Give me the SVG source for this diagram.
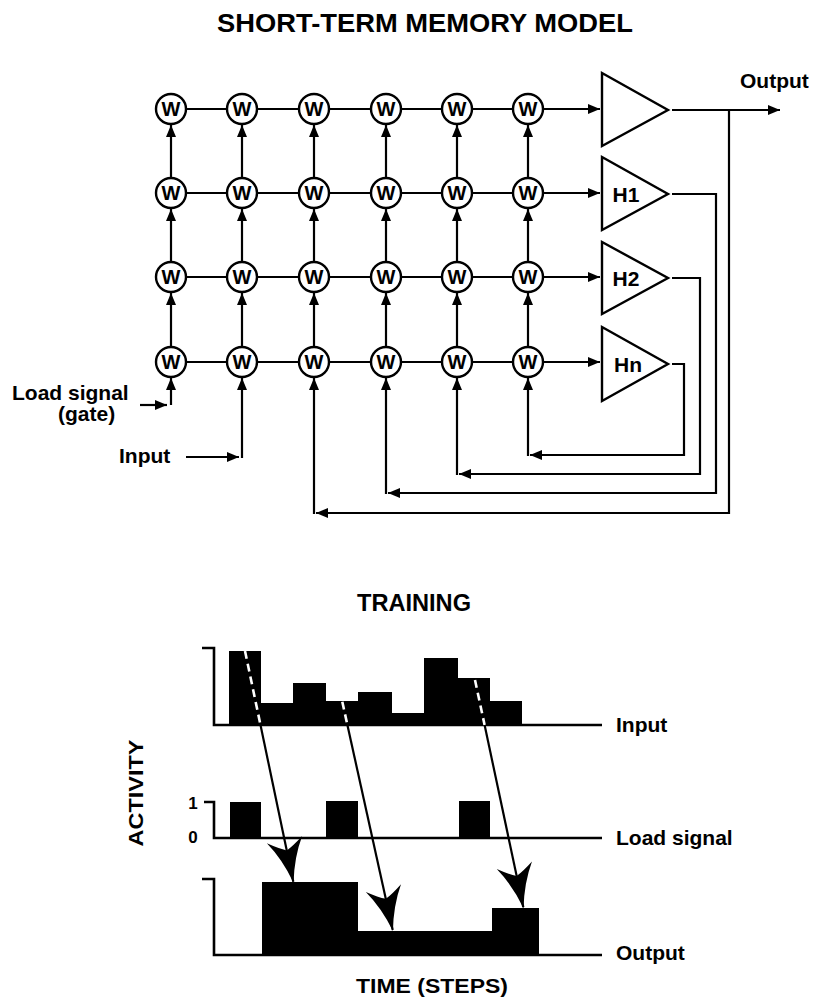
<svg xmlns="http://www.w3.org/2000/svg" width="817" height="1000" viewBox="0 0 817 1000">
<style>
text{font-family:"Liberation Sans",Arial,Helvetica,sans-serif;font-weight:bold;fill:#000}
.ln{fill:none;stroke:#000;stroke-width:2.2}
.ax{fill:none;stroke:#000;stroke-width:2.6}
.node circle{fill:#fff;stroke:#000;stroke-width:2.4}
.node text{font-size:20px;text-anchor:middle}
.amp polygon{fill:#fff;stroke:#000;stroke-width:2.4;stroke-linejoin:miter}
.amp text{font-size:21px;text-anchor:middle}
.lbl{font-size:21px}
.dash{fill:none;stroke:#fff;stroke-width:2.6;stroke-dasharray:8 5}
.bar{fill:#000}
</style>
<defs>
<marker id="ah" markerUnits="userSpaceOnUse" orient="auto" refX="0" refY="0" markerWidth="20" markerHeight="20" overflow="visible">
<path d="M0,0 L-12,-5 L-12,5 Z" fill="#000"/>
</marker>
<marker id="big" markerUnits="userSpaceOnUse" orient="auto" refX="0" refY="0" markerWidth="60" markerHeight="60" overflow="visible">
<path d="M1,0 Q-24,-6 -43,-18 Q-35,-7 -32,0 Q-35,7 -43,18 Q-24,6 1,0 Z" fill="#000"/>
</marker>
</defs>

<text x="425" y="32" font-size="26" text-anchor="middle" textLength="416" lengthAdjust="spacingAndGlyphs">SHORT-TERM MEMORY MODEL</text>

<g id="connectors">
<path class="ln" d="M171,109 H600" marker-end="url(#ah)"/>
<path class="ln" d="M171,193 H600" marker-end="url(#ah)"/>
<path class="ln" d="M171,277 H600" marker-end="url(#ah)"/>
<path class="ln" d="M171,362 H600" marker-end="url(#ah)"/>
<g class="ln">
<path d="M171,347 V293" marker-end="url(#ah)"/><path d="M171,262 V209" marker-end="url(#ah)"/><path d="M171,178 V125" marker-end="url(#ah)"/>
<path d="M242,347 V293" marker-end="url(#ah)"/><path d="M242,262 V209" marker-end="url(#ah)"/><path d="M242,178 V125" marker-end="url(#ah)"/>
<path d="M314,347 V293" marker-end="url(#ah)"/><path d="M314,262 V209" marker-end="url(#ah)"/><path d="M314,178 V125" marker-end="url(#ah)"/>
<path d="M386,347 V293" marker-end="url(#ah)"/><path d="M386,262 V209" marker-end="url(#ah)"/><path d="M386,178 V125" marker-end="url(#ah)"/>
<path d="M457,347 V293" marker-end="url(#ah)"/><path d="M457,262 V209" marker-end="url(#ah)"/><path d="M457,178 V125" marker-end="url(#ah)"/>
<path d="M528,347 V293" marker-end="url(#ah)"/><path d="M528,262 V209" marker-end="url(#ah)"/><path d="M528,178 V125" marker-end="url(#ah)"/>
</g>
<path class="ln" d="M140,405 H167" marker-end="url(#ah)"/>
<path class="ln" d="M171,405 V378" marker-end="url(#ah)"/>
<path class="ln" d="M186,457 H239" marker-end="url(#ah)"/>
<path class="ln" d="M242,458 V378" marker-end="url(#ah)"/>
<path class="ln" d="M672,110 H780" marker-end="url(#ah)"/>
<path class="ln" d="M729,110 V513 H316" marker-end="url(#ah)"/>
<path class="ln" d="M314,514 V378" marker-end="url(#ah)"/>
<path class="ln" d="M672,194 H716 V493 H388" marker-end="url(#ah)"/>
<path class="ln" d="M386,494 V378" marker-end="url(#ah)"/>
<path class="ln" d="M672,278 H700 V474 H459" marker-end="url(#ah)"/>
<path class="ln" d="M457,475 V378" marker-end="url(#ah)"/>
<path class="ln" d="M672,364 H684 V455 H530" marker-end="url(#ah)"/>
<path class="ln" d="M528,456 V378" marker-end="url(#ah)"/>
</g>

<g id="w-nodes" class="node">
<g id="w11"><circle cx="171" cy="109" r="15"/><text x="171" y="116">W</text></g>
<g id="w12"><circle cx="242" cy="109" r="15"/><text x="242" y="116">W</text></g>
<g id="w13"><circle cx="314" cy="109" r="15"/><text x="314" y="116">W</text></g>
<g id="w14"><circle cx="386" cy="109" r="15"/><text x="386" y="116">W</text></g>
<g id="w15"><circle cx="457" cy="109" r="15"/><text x="457" y="116">W</text></g>
<g id="w16"><circle cx="528" cy="109" r="15"/><text x="528" y="116">W</text></g>
<g id="w21"><circle cx="171" cy="193" r="15"/><text x="171" y="200">W</text></g>
<g id="w22"><circle cx="242" cy="193" r="15"/><text x="242" y="200">W</text></g>
<g id="w23"><circle cx="314" cy="193" r="15"/><text x="314" y="200">W</text></g>
<g id="w24"><circle cx="386" cy="193" r="15"/><text x="386" y="200">W</text></g>
<g id="w25"><circle cx="457" cy="193" r="15"/><text x="457" y="200">W</text></g>
<g id="w26"><circle cx="528" cy="193" r="15"/><text x="528" y="200">W</text></g>
<g id="w31"><circle cx="171" cy="277" r="15"/><text x="171" y="284">W</text></g>
<g id="w32"><circle cx="242" cy="277" r="15"/><text x="242" y="284">W</text></g>
<g id="w33"><circle cx="314" cy="277" r="15"/><text x="314" y="284">W</text></g>
<g id="w34"><circle cx="386" cy="277" r="15"/><text x="386" y="284">W</text></g>
<g id="w35"><circle cx="457" cy="277" r="15"/><text x="457" y="284">W</text></g>
<g id="w36"><circle cx="528" cy="277" r="15"/><text x="528" y="284">W</text></g>
<g id="w41"><circle cx="171" cy="362" r="15"/><text x="171" y="369">W</text></g>
<g id="w42"><circle cx="242" cy="362" r="15"/><text x="242" y="369">W</text></g>
<g id="w43"><circle cx="314" cy="362" r="15"/><text x="314" y="369">W</text></g>
<g id="w44"><circle cx="386" cy="362" r="15"/><text x="386" y="369">W</text></g>
<g id="w45"><circle cx="457" cy="362" r="15"/><text x="457" y="369">W</text></g>
<g id="w46"><circle cx="528" cy="362" r="15"/><text x="528" y="369">W</text></g>
</g>

<g id="amplifiers" class="amp">
<g id="amp-out"><polygon points="602,73 602,146 668,110"/></g>
<g id="amp-h1"><polygon points="602,157 602,230 668,194"/><text x="626" y="202">H1</text></g>
<g id="amp-h2"><polygon points="602,242 602,314 668,278"/><text x="626" y="286">H2</text></g>
<g id="amp-hn"><polygon points="602,327 602,401 668,364"/><text x="628" y="372">Hn</text></g>
</g>

<g id="top-labels">
<text class="lbl" x="740" y="88">Output</text>
<text class="lbl" x="12" y="400">Load signal</text>
<text class="lbl" x="58" y="421">(gate)</text>
<text class="lbl" x="119" y="463">Input</text>
</g>

<text x="414" y="611" font-size="23" text-anchor="middle" textLength="114" lengthAdjust="spacingAndGlyphs">TRAINING</text>

<g id="chart-input">
<path class="bar" d="M229,725 V651 H261 V703 H293 V683 H326 V701 H358 V692 H392 V713 H424 V658 H458 V678 H490 V701 H522 V725 Z"/>
<path class="ax" d="M202,648 H214 V725 H602"/>
<text class="lbl" x="616" y="732">Input</text>
</g>

<g id="chart-load">
<rect class="bar" x="230" y="802" width="31" height="36"/>
<rect class="bar" x="326" y="801" width="32" height="37"/>
<rect class="bar" x="459" y="801" width="31" height="37"/>
<path class="ax" d="M204,802 H214 V838 H602"/>
<text x="193" y="809" font-size="17" text-anchor="middle">1</text>
<text x="193" y="843" font-size="17" text-anchor="middle">0</text>
<text class="lbl" x="616" y="845">Load signal</text>
</g>

<g id="chart-output">
<path class="bar" d="M262,955 V882 H358 V931 H492 V908 H539 V955 Z"/>
<path class="ax" d="M202,879 H214 V955 H602"/>
<text class="lbl" x="616" y="960">Output</text>
</g>

<g id="training-arrows">
<path class="dash" d="M245,651 L260.5,725"/>
<path class="dash" d="M342.3,701.7 L347.4,725"/>
<path class="dash" d="M475,680 L484.6,725"/>
<path class="ln" d="M260.5,725 L293.3,881.7" marker-end="url(#big)"/>
<path class="ln" d="M347.4,725 L392.7,930" marker-end="url(#big)"/>
<path class="ln" d="M484.6,725 L523.3,907.3" marker-end="url(#big)"/>
</g>

<text x="143" y="793" font-size="21" text-anchor="middle" transform="rotate(-90 143 793)" textLength="107" lengthAdjust="spacingAndGlyphs">ACTIVITY</text>
<text x="432" y="993" font-size="21" text-anchor="middle" textLength="152" lengthAdjust="spacingAndGlyphs">TIME (STEPS)</text>
</svg>
